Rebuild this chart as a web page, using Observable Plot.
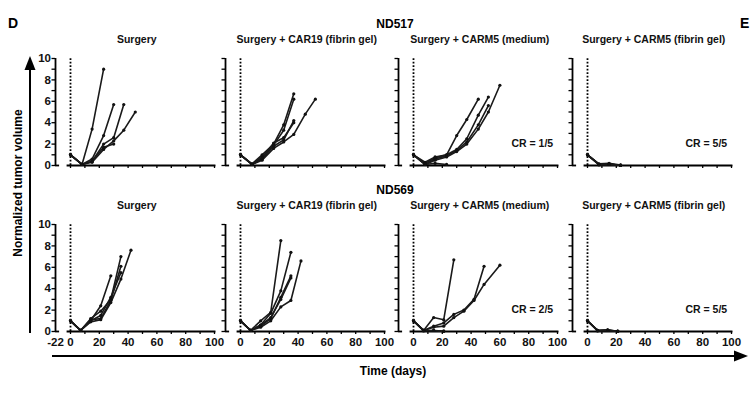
<!DOCTYPE html>
<html><head><meta charset="utf-8">
<script src="https://cdn.jsdelivr.net/npm/d3@7"></script>
<script src="https://cdn.jsdelivr.net/npm/@observablehq/plot@0.6"></script>
<style>
body{margin:0;background:#fff;}
#wrap{position:relative;width:750px;height:393px;overflow:hidden;background:#fff;font-family:"Liberation Sans",Arial,sans-serif;}
.panel{position:absolute;width:210px;height:166px;}
#overlay{position:absolute;left:0;top:0;}
</style></head><body><div id="wrap"></div>
<script>
// ---- data ----
const daysND517 = [0, 8, 15, 23, 30, 37, 45, 52, 60];
const daysND569 = [0, 7, 14, 21, 28, 35, 42, 49, 60];
const panelTitles = ["Surgery", "Surgery + CAR19 (fibrin gel)", "Surgery + CARM5 (medium)", "Surgery + CARM5 (fibrin gel)"];
const rowLabels = ["ND517", "ND569"];
const crLabelsND517 = [null, null, "CR = 1/5", "CR = 5/5"];
const crLabelsND569 = [null, null, "CR = 2/5", "CR = 5/5"];
const xTickValues = [0, 10, 20, 30, 40, 50, 60, 70, 80, 90, 100];
const xTickLabels = [-22, 0, 20, 40, 60, 80, 100];
const yTickValues = [0, 1, 2, 3, 4, 5, 6, 7, 8, 9, 10];
const yTickLabels = [0, 2, 4, 6, 8, 10];
const yLabel = "Normalized tumor volume";
const xLabel = "Time (days)";

// normalized tumor volume per mouse (one array per mouse, aligned with the day list)
const nd517Surgery = [
  [1.0, 0.1, 3.4, 9.0],
  [1.0, 0.1, 0.6, 2.8, 5.7],
  [1.0, 0.1, 0.4, 2.0, 2.6, 5.7],
  [1.0, 0.1, 0.3, 1.5, 2.3, 3.3, 5.0],
  [1.0, 0.1, 0.4, 1.7, 2.0]
];
const nd517Car19Gel = [
  [1.0, 0.15, 1.0, 2.0, 3.8, 6.7],
  [1.0, 0.1, 0.8, 1.9, 3.3, 6.2],
  [1.0, 0.1, 0.6, 1.8, 2.4, 4.2],
  [1.0, 0.1, 0.5, 1.6, 2.2, 2.9, 4.8, 6.2],
  [1.0, 0.1, 0.7, 2.1, 2.6, 4.0]
];
const nd517Carm5Medium = [
  [1.0, 0.3, 0.8, 1.0, 2.8, 4.3, 6.2],
  [1.0, 0.2, 0.7, 1.0, 1.5, 2.5, 4.7, 6.4],
  [1.0, 0.1, 0.6, 0.9, 1.4, 2.2, 3.8, 5.6],
  [1.0, 0.1, 0.5, 0.8, 1.3, 2.0, 3.4, 5.0, 7.5],
  [1.0, 0.1, 0.2, 0.1]
];
const nd517Carm5Gel = [
  [1.0, 0.15, 0.2, 0.05],
  [1.0, 0.1, 0.1, 0.02],
  [1.0, 0.1, 0.15, 0.0],
  [1.0, 0.05, 0.1, 0.03],
  [1.0, 0.1, 0.12, 0.01]
];
const nd569Surgery = [
  [1.0, 0.1, 1.0, 2.4, 5.2],
  [1.0, 0.1, 1.2, 1.9, 3.0, 7.0],
  [1.0, 0.1, 1.1, 1.2, 2.9, 6.1],
  [1.0, 0.1, 0.9, 1.1, 2.7, 4.9, 7.6],
  [1.0, 0.1, 1.0, 1.5, 3.2, 5.5]
];
const nd569Car19Gel = [
  [1.0, 0.1, 1.0, 1.8, 8.5],
  [1.0, 0.1, 0.6, 1.7, 3.8, 7.4],
  [1.0, 0.1, 0.5, 1.2, 3.2, 5.2],
  [1.0, 0.1, 0.4, 1.0, 2.3, 2.9, 6.6],
  [1.0, 0.1, 0.6, 1.3, 3.0, 5.0]
];
const nd569Carm5Medium = [
  [1.0, 0.1, 1.3, 1.1, 6.7],
  [1.0, 0.1, 0.5, 0.8, 1.6, 2.0, 3.0, 6.1],
  [1.0, 0.1, 0.4, 0.5, 1.3, 1.9, 2.9, 4.4, 6.2],
  [1.0, 0.1, 0.1, 0.05],
  [1.0, 0.05, 0.1, 0.0]
];
const nd569Carm5Gel = [
  [1.0, 0.1, 0.15, 0.03],
  [1.0, 0.1, 0.1, 0.02],
  [1.0, 0.05, 0.12, 0.0],
  [1.0, 0.1, 0.1, 0.04],
  [1.0, 0.08, 0.14, 0.01]
];

// ---- layout ----
const FONT = '"Liberation Sans", Arial, sans-serif';
const panelLefts = [15, 185, 358, 532];
const panelTops = [23, 189];
const PX_PER_DAY = 1.44;
const Y_AXIS_AT = 40, DAY0_AT = 55;
const Y0_AT = 142, Y10_AT = 35;
const PX_PER_UNIT = (Y0_AT - Y10_AT) / 10;
const TICK_Y = 3 / PX_PER_UNIT; // 3px in y units

const grid = [
  {days: daysND517, sets: [nd517Surgery, nd517Car19Gel, nd517Carm5Medium, nd517Carm5Gel], cr: crLabelsND517},
  {days: daysND569, sets: [nd569Surgery, nd569Car19Gel, nd569Carm5Medium, nd569Carm5Gel], cr: crLabelsND569}
];

const wrap = document.getElementById("wrap");

grid.forEach((row, r) => {
  row.sets.forEach((set, c) => {
    const pts = [];
    set.forEach((vals, m) => vals.forEach((v, i) => pts.push({mouse: m, day: row.days[i], v})));
    const first = c === 0, bottom = r === 1;
    const marks = [
      // y axis
      Plot.ruleX([-22], {y1: 0, y2: 10, stroke: "#000", strokeWidth: 1.8}),
      Plot.ruleY(yTickValues, {x1: -28, x2: -22, stroke: "#000", strokeWidth: 1.3}),
      // x axis with break
      Plot.ruleY([0], {x1: -22, x2: -16, stroke: "#000", strokeWidth: 1.8}),
      Plot.ruleY([0], {x1: -5, x2: 101, stroke: "#000", strokeWidth: 1.8}),
      Plot.ruleX(xTickValues, {y1: 0, y2: -TICK_Y, stroke: "#000", strokeWidth: 1.3}),
      // treatment day (surgery)
      Plot.ruleX([0], {y1: 0, y2: 10, stroke: "#000", strokeWidth: 1.8, strokeDasharray: "1.7 1.8"}),
      // series
      Plot.line(pts, {x: "day", y: "v", z: "mouse", stroke: "#1a1a1a", strokeWidth: 1.6}),
      Plot.dot(pts, {x: "day", y: "v", r: 1.6, fill: "#111", stroke: null}),
      // title
      Plot.text([panelTitles[c]], {x: 46, y: (Y0_AT - 16.5) / PX_PER_UNIT, text: d => d,
        fontWeight: "bold", fontSize: 10.5, fill: "#111"})
    ];
    if (row.cr[c]) marks.push(Plot.text([row.cr[c]], {x: 97, y: 2, text: d => d, textAnchor: "end",
      fontWeight: "bold", fontSize: 10.5, fill: "#111"}));
    if (first) marks.push(Plot.text(yTickLabels, {x: -28, y: d => d, text: d => String(d), textAnchor: "end", dx: -1,
      fontWeight: "bold", fontSize: 11.5, fill: "#111"}));
    if (bottom) {
      const labs = xTickLabels.filter(d => first || d >= 0);
      marks.push(Plot.text(labs, {x: d => d, y: 0, dy: 11, text: d => String(d),
        fontWeight: "bold", fontSize: 11.5, fill: "#111"}));
    }
    const svg = Plot.plot({
      width: 210, height: 166,
      margin: 0,
      x: {type: "linear", domain: [-28, -22, 0, 102], range: [Y_AXIS_AT - 3.5, Y_AXIS_AT, DAY0_AT, DAY0_AT + 102 * PX_PER_DAY], axis: null},
      y: {type: "linear", domain: [0, 10], range: [Y0_AT, Y10_AT], axis: null},
      style: {background: "transparent", overflow: "visible", fontFamily: FONT},
      marks
    });
    const div = document.createElement("div");
    div.className = "panel";
    div.style.left = panelLefts[c] + "px";
    div.style.top = panelTops[r] + "px";
    div.appendChild(svg);
    wrap.appendChild(div);
  });
});

// ---- overlay: panel letter, row labels, axis titles with arrows ----
const ov = d3.select(wrap).append("svg").attr("id", "overlay").attr("width", 750).attr("height", 393)
  .style("font-family", FONT).style("font-weight", "bold").style("pointer-events", "none");
ov.append("text").attr("x", 8).attr("y", 28).attr("font-size", 14).text("D");
ov.append("text").attr("x", 740).attr("y", 28).attr("font-size", 14).text("E");
ov.append("text").attr("x", 395).attr("y", 28).attr("text-anchor", "middle").attr("font-size", 12).text(rowLabels[0]);
ov.append("text").attr("x", 395).attr("y", 194).attr("text-anchor", "middle").attr("font-size", 12).text(rowLabels[1]);
ov.append("text").attr("transform", "translate(22,183) rotate(-90)").attr("text-anchor", "middle").attr("font-size", 12).text(yLabel);
ov.append("text").attr("x", 393).attr("y", 375).attr("text-anchor", "middle").attr("font-size", 12).text(xLabel);
// arrows
ov.append("line").attr("x1", 30).attr("x2", 30).attr("y1", 333).attr("y2", 66).attr("stroke", "#000").attr("stroke-width", 2);
ov.append("path").attr("d", "M30,56L24.5,70L35.5,70Z").attr("fill", "#000");
ov.append("line").attr("x1", 52).attr("x2", 738).attr("y1", 356).attr("y2", 356).attr("stroke", "#000").attr("stroke-width", 2);
ov.append("path").attr("d", "M748,356L734,350.5L734,361.5Z").attr("fill", "#000");
</script>
</body></html>
